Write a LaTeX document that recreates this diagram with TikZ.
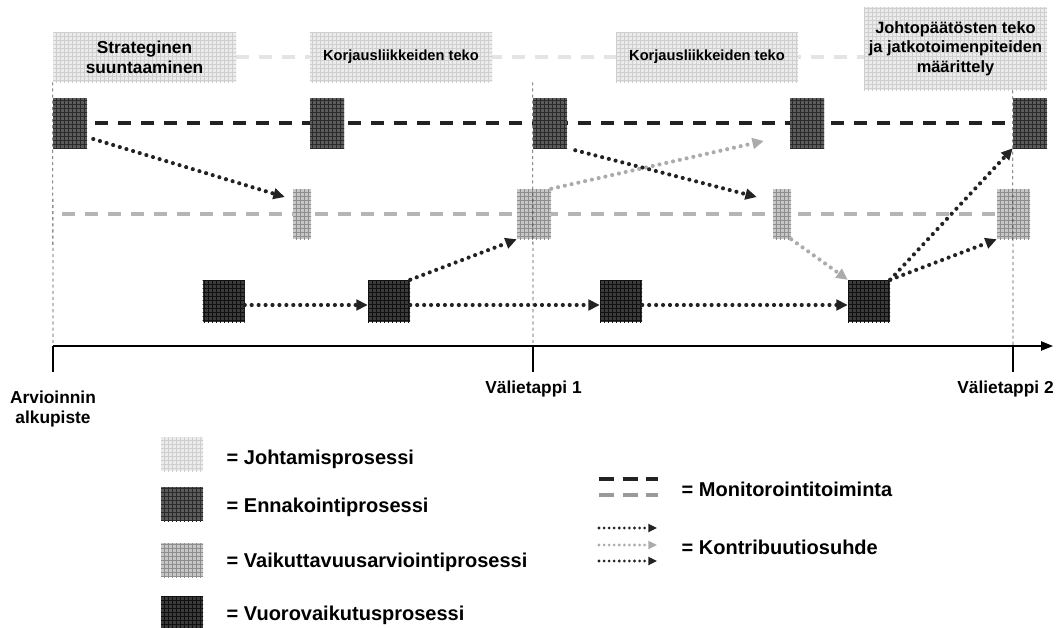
\documentclass[tikz,border=0pt]{standalone}
\usepackage{fontspec}
\setmainfont{Liberation Sans}
\usetikzlibrary{arrows.meta,patterns,backgrounds}
\definecolor{mgmtc}{HTML}{EBEBEB}
\definecolor{mgmtl}{HTML}{CFCFCF}
\definecolor{ennc}{HTML}{5C5C5C}
\definecolor{ennl}{HTML}{2A2A2A}
\definecolor{vaikc}{HTML}{C6C6C6}
\definecolor{vaikl}{HTML}{8E8E8E}
\definecolor{vuoc}{HTML}{3A3A3A}
\definecolor{vuol}{HTML}{111111}
\definecolor{darkl}{HTML}{222222}
\definecolor{greyl}{HTML}{B5B5B5}
\definecolor{lightl}{HTML}{E4E4E4}
\definecolor{greyarrow}{HTML}{ABABAB}
\definecolor{vdashc}{HTML}{505050}
\begin{document}
\begin{tikzpicture}[x=0.75pt,y=-0.75pt,
  procbox/.style={rectangle, inner sep=0pt, draw=none},
  mgmt/.style={procbox, fill=mgmtc, postaction={pattern=grid, pattern color=mgmtl}, align=center},
  enn/.style={procbox, fill=ennc, postaction={pattern=grid, pattern color=ennl}, minimum width=25.5pt, minimum height=37.5pt},
  vaik/.style={procbox, fill=vaikc, postaction={pattern=grid, pattern color=vaikl}, minimum height=37.5pt},
  vuoro/.style={procbox, fill=vuoc, postaction={pattern=grid, pattern color=vuol}, minimum width=31.5pt, minimum height=31.5pt},
  legbox/.style={minimum width=31.5pt, minimum height=25.5pt},
  contrib/.style={darkl, line width=3.1pt, line cap=round, dash pattern=on 0pt off 5.2pt, -{Triangle[length=8.5pt,width=8pt]}},
  contribg/.style={contrib, greyarrow},
  smallcontrib/.style={line width=2.3pt, line cap=round, dash pattern=on 0pt off 3.8pt, -{Triangle[length=6.5pt,width=6pt]}},
  monblack/.style={darkl, line width=3pt, dash pattern=on 9.75pt off 7.5pt},
  mongrey/.style={greyl, line width=3pt, dash pattern=on 9.75pt off 7.5pt},
  monlight/.style={lightl, line width=3pt, dash pattern=on 9.75pt off 7.5pt},
  vdash/.style={vdashc, line width=0.6pt, dash pattern=on 2.3pt off 2.3pt},
  axisline/.style={black, line width=1pt},
  lbl/.style={font=\bfseries\fontsize{13}{14.3}\selectfont, align=center},
  legtext/.style={anchor=base west, font=\bfseries\fontsize{15}{18}\selectfont},
]
\useasboundingbox (0,0) rectangle (1058,628);

% management boxes
\node[mgmt, minimum width=137.25pt, minimum height=37.5pt, font=\bfseries\fontsize{13}{15}\selectfont] (M1) at (144.5,57) {Strateginen\\suuntaaminen};
\node[mgmt, minimum width=136.5pt, minimum height=37.5pt, font=\bfseries\fontsize{11}{13}\selectfont] (M2) at (401,57) {Korjausliikkeiden teko};
\node[mgmt, minimum width=136.5pt, minimum height=37.5pt, font=\bfseries\fontsize{11}{13}\selectfont] (M3) at (707,57) {Korjausliikkeiden teko};
\node[mgmt, minimum width=137.25pt, minimum height=62.25pt, font=\bfseries\fontsize{12.3}{14.6}\selectfont] (M4) at (955.5,48.5) {Johtopäätösten teko\\ja jatkotoimenpiteiden\\määrittely};

% ennakointi
\node[enn] (E1) at (70,123) {};
\node[enn] (E2) at (327,123) {};
\node[enn] (E3) at (550,123) {};
\node[enn] (E4) at (807,123) {};
\node[enn] (E5) at (1030,123) {};

% vaikuttavuus
\node[vaik, minimum width=13.5pt] (V1) at (302,214) {};
\node[vaik, minimum width=25.5pt] (V2) at (534,214) {};
\node[vaik, minimum width=13.5pt] (V3) at (782,214) {};
\node[vaik, minimum width=24.75pt] (V4) at (1013.5,214) {};

% vuorovaikutus
\node[vuoro] (W1) at (223.5,301) {};
\node[vuoro] (W2) at (389,301) {};
\node[vuoro] (W3) at (621,301) {};
\node[vuoro] (W4) at (869,301) {};

% monitoring lines
\coordinate (gs) at (62,214);
\begin{scope}[on background layer]
  \draw[monlight] (M1.east) -- (M4.west |- M1.east);
  \draw[monblack] ([xshift=6pt]E1.east) -- (E5.west);
  \draw[mongrey] (gs) -- (V4.west);
\end{scope}

% axis
\coordinate (A0) at (53,346);
\coordinate (A1) at (533,346);
\coordinate (A2) at (1013,346);
\coordinate (Aend) at (1053,346);
\draw[axisline, -{Triangle[length=9pt,width=7pt]}] (A0) -- (Aend);
\draw[axisline] (A0) -- ++(0,26) coordinate (T0);
\draw[axisline] (A1) -- ++(0,26) coordinate (T1);
\draw[axisline] (A2) -- ++(0,26) coordinate (T2);
\draw[vdash] (M1.south west) -- (A0);
\draw[vdash] (E3.north west |- M2.south) -- (A1);
\draw[vdash] (E5.north west |- M4.south) -- (A2);

% contribution arrows
\draw[contrib] ([shift={(6,16)}]E1.east) -- ([shift={(-8,-17)}]V1.west);
\draw[contrib] ([shift={(0,4)}]W1.east) -- ([shift={(0,4)}]W2.west);
\draw[contrib] ([shift={(0,4)}]W2.east) -- ([shift={(0,4)}]W3.west);
\draw[contrib] ([shift={(0,4)}]W3.east) -- ([shift={(0,4)}]W4.west);
\draw[contrib] (W2.north east) -- (V2.south west);
\draw[contribg] (V2.north east) -- ([shift={(-26,18)}]E4.west);
\draw[contrib] ([shift={(8,2)}]E3.south east) -- ([shift={(-16,-17)}]V3.west);
\draw[contribg] (V3.south east) -- (W4.north west);
\draw[contrib] (W4.north east) -- (E5.south west);
\draw[contrib] (W4.north east) -- (V4.south west);

% axis labels
\node[lbl] (L0) at (53,409) {Arvioinnin\\alkupiste};
\node[lbl, anchor=base] (L1) at (533.5,393) {Välietappi 1};
\node[lbl, anchor=base] (L2) at (1005.5,393) {Välietappi 2};

% legend
\node[legbox, fill=mgmtc, postaction={pattern=grid, pattern color=mgmtl}] (LJ) at (182,454) {};
\node[legbox, fill=ennc, postaction={pattern=grid, pattern color=ennl}] (LE) at (182,504) {};
\node[legbox, fill=vaikc, postaction={pattern=grid, pattern color=vaikl}] (LV) at (182,560) {};
\node[legbox, fill=vuoc, postaction={pattern=grid, pattern color=vuol}] (LW) at (182,613) {};
\node[legtext] (TJ) at (222,464) {= Johtamisprosessi};
\node[legtext] (TE) at (222,512) {= Ennakointiprosessi};
\node[legtext] (TV) at (222,567) {= Vaikuttavuusarviointiprosessi};
\node[legtext] (TW) at (222,620) {= Vuorovaikutusprosessi};

\coordinate (mb1) at (599,479); \coordinate (mb2) at (658,479);
\coordinate (mg1) at (599,495); \coordinate (mg2) at (658,495);
\draw[darkl, line width=2.6pt, dash pattern=on 11.25pt off 6.4pt] (mb1) -- (mb2);
\draw[greyl!85!black, line width=2.6pt, dash pattern=on 11.25pt off 6.4pt] (mg1) -- (mg2);
\node[legtext] (TM) at (677,496) {= Monitorointitoiminta};

\coordinate (k1) at (599,528); \coordinate (k1e) at (657,528);
\coordinate (k2) at (599,545); \coordinate (k2e) at (657,545);
\coordinate (k3) at (599,561); \coordinate (k3e) at (657,561);
\draw[smallcontrib, darkl] (k1) -- (k1e);
\draw[smallcontrib, greyarrow] (k2) -- (k2e);
\draw[smallcontrib, darkl] (k3) -- (k3e);
\node[legtext] (TK) at (677,554) {= Kontribuutiosuhde};
\end{tikzpicture}
\end{document}
